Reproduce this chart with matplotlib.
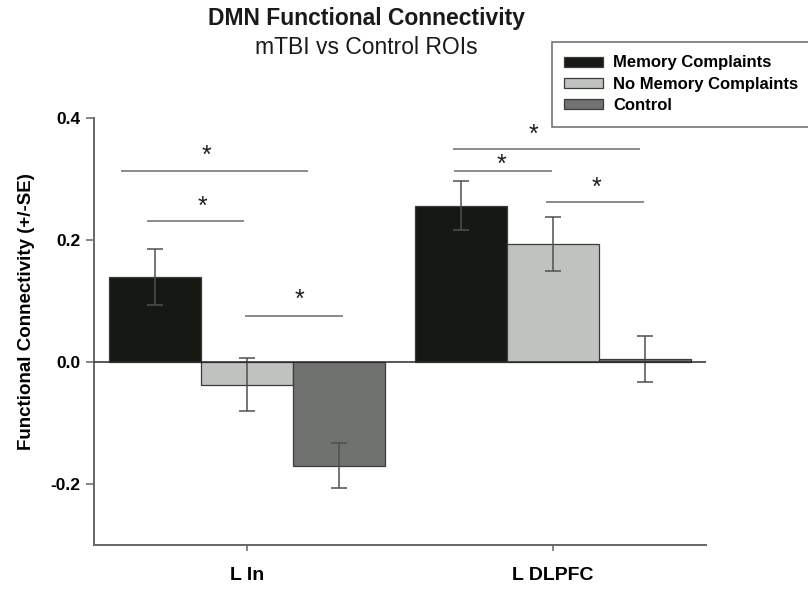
import numpy as np
import matplotlib
matplotlib.use("Agg")
import matplotlib.pyplot as plt
from matplotlib.patches import Rectangle

plt.rcParams['font.family'] = ['Liberation Sans', 'DejaVu Sans']

# --- data ---
regions = ["L In", "L DLPFC"]
groups = ["Memory Complaints", "No Memory Complaints", "Control"]
means = {
    "Memory Complaints":    [0.139, 0.256],
    "No Memory Complaints": [-0.037, 0.193],
    "Control":              [-0.170, 0.005],
}
errors = {
    "Memory Complaints":    [0.046, 0.040],
    "No Memory Complaints": [0.044, 0.044],
    "Control":              [0.037, 0.038],
}
colors = {
    "Memory Complaints":    "#161814",
    "No Memory Complaints": "#c0c2c0",
    "Control":              "#707270",
}

# significance brackets: (x start, x end, y level) and where each star sits
sig_x0 = [-0.408, -0.324, -0.003, 0.676, 0.680, 0.980]
sig_x1 = [0.196, -0.013, 0.310, 1.281, 0.993, 1.294]
sig_y = [0.313, 0.231, 0.076, 0.350, 0.313, 0.263]
star_x = [-0.131, -0.147, 0.173, 0.935, 0.833, 1.141]
star_y = [0.351, 0.267, 0.114, 0.385, 0.335, 0.298]

yticks = [-0.2, 0.0, 0.2, 0.4]
ytick_labels = ["-0.2", "0.0", "0.2", "0.4"]

# --- plotting ---
fig = plt.figure(figsize=(8.08, 5.89), dpi=100)
ax = fig.add_axes([94 / 808, 44 / 589, 612 / 808, 427 / 589])

x = np.arange(len(regions))
width = 0.3
offsets = [-width, 0.0, width]

for g, off in zip(groups, offsets):
    ax.bar(x + off, means[g], width, color=colors[g], edgecolor="#3c3c3c",
           linewidth=0.9, label=g, zorder=2)
    ax.errorbar(x + off, means[g], yerr=errors[g], fmt="none", ecolor="#505050",
                elinewidth=1.1, capsize=5.5, capthick=1.1, zorder=3)

ax.axhline(0, color="#2a2a2a", linewidth=1.1, zorder=4)

for x0, x1, y in zip(sig_x0, sig_x1, sig_y):
    ax.plot([x0, x1], [y, y], color="#8a8a8a", linewidth=1.4, zorder=3)
# asterisk glyph sits ~0.58 em above baseline, so drop the baseline a bit
for sx, sy in zip(star_x, star_y):
    ax.text(sx, sy - 0.024, "*", ha="center", va="baseline",
            fontsize=18, color="#1e1e1e")

ax.set_xlim(-0.5, 1.5)
ax.set_ylim(-0.3, 0.4)
ax.set_yticks(yticks)
ax.set_yticklabels(ytick_labels, fontsize=12.5, fontweight="bold")
ax.set_xticks(x)
ax.set_xticklabels(regions, fontsize=14, fontweight="bold")

for s in ["top", "right"]:
    ax.spines[s].set_visible(False)
for s in ["left", "bottom"]:
    ax.spines[s].set_color("#666666")
    ax.spines[s].set_linewidth(1.4)
ax.tick_params(axis="y", direction="out", length=5.5, width=1.1,
               color="#666666", pad=4)
ax.tick_params(axis="x", direction="out", length=4.5, width=1.1,
               color="#666666", pad=11)

ax.set_ylabel("Functional Connectivity (+/-SE)", fontsize=13.5, fontweight="bold")
ax.yaxis.set_label_coords(-0.097, 0.547)

fig.text(366.5 / 808, 1 - 19 / 589, "DMN Functional Connectivity",
         ha="center", va="center", fontsize=16.5, fontweight="bold", color="#1a1a1a")
fig.text(366.5 / 808, 1 - 47 / 589, "mTBI vs Control ROIs",
         ha="center", va="center", fontsize=16.5, color="#1a1a1a")

# legend box runs off the right edge in the original
fig.add_artist(Rectangle((552 / 808, 1 - 127 / 589), 300 / 808, 85 / 589,
                         transform=fig.transFigure, facecolor="white",
                         edgecolor="#6a6a6a", linewidth=1.1, clip_on=False, zorder=5))
handles, labels = ax.get_legend_handles_labels()
leg = fig.legend(handles, labels, loc="upper left",
                 bbox_to_anchor=(564 / 808, 1 - 55.5 / 589),
                 bbox_transform=fig.transFigure, frameon=False,
                 borderpad=0, borderaxespad=0, labelspacing=0.36,
                 handlelength=2.34, handleheight=0.55, handletextpad=0.6,
                 prop={"size": 12, "weight": "bold"})
leg.set_zorder(6)

fig.savefig("out.png", dpi=100)
